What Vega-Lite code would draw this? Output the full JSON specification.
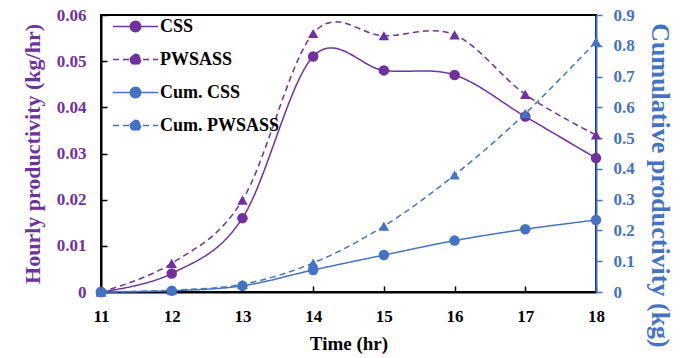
{
  "$schema": "https://vega.github.io/schema/vega-lite/v6.json",
  "width": 495,
  "height": 277,
  "autosize": "none",
  "padding": {"left": 101, "top": 15, "right": 89, "bottom": 66},
  "background": "white",
  "config": {
    "font": "Liberation Serif",
    "view": {"stroke": "black", "strokeWidth": 2},
    "axis": {"grid": false, "labelFont": "Liberation Serif", "titleFont": "Liberation Serif", "labelFontWeight": "bold", "titleFontWeight": "bold", "labelOverlap": false}
  },
  "data": {
    "values": [
      {"t": 11, "s": "CSS", "v": 0, "ax": "L"},
      {"t": 12, "s": "CSS", "v": 0.004, "ax": "L"},
      {"t": 13, "s": "CSS", "v": 0.016, "ax": "L"},
      {"t": 14, "s": "CSS", "v": 0.051, "ax": "L"},
      {"t": 15, "s": "CSS", "v": 0.048, "ax": "L"},
      {"t": 16, "s": "CSS", "v": 0.047, "ax": "L"},
      {"t": 17, "s": "CSS", "v": 0.038, "ax": "L"},
      {"t": 18, "s": "CSS", "v": 0.029, "ax": "L"},
      {"t": 11, "s": "PWSASS", "v": 0, "ax": "L"},
      {"t": 12, "s": "PWSASS", "v": 0.0062, "ax": "L"},
      {"t": 13, "s": "PWSASS", "v": 0.0199, "ax": "L"},
      {"t": 14, "s": "PWSASS", "v": 0.056, "ax": "L"},
      {"t": 15, "s": "PWSASS", "v": 0.0555, "ax": "L"},
      {"t": 16, "s": "PWSASS", "v": 0.0557, "ax": "L"},
      {"t": 17, "s": "PWSASS", "v": 0.0428, "ax": "L"},
      {"t": 18, "s": "PWSASS", "v": 0.034, "ax": "L"},
      {"t": 11, "s": "Cum. CSS", "v": 0, "ax": "R"},
      {"t": 12, "s": "Cum. CSS", "v": 0.004, "ax": "R"},
      {"t": 13, "s": "Cum. CSS", "v": 0.02, "ax": "R"},
      {"t": 14, "s": "Cum. CSS", "v": 0.0715, "ax": "R"},
      {"t": 15, "s": "Cum. CSS", "v": 0.12, "ax": "R"},
      {"t": 16, "s": "Cum. CSS", "v": 0.167, "ax": "R"},
      {"t": 17, "s": "Cum. CSS", "v": 0.204, "ax": "R"},
      {"t": 18, "s": "Cum. CSS", "v": 0.234, "ax": "R"},
      {"t": 11, "s": "Cum. PWSASS", "v": 0, "ax": "R"},
      {"t": 12, "s": "Cum. PWSASS", "v": 0.006, "ax": "R"},
      {"t": 13, "s": "Cum. PWSASS", "v": 0.025, "ax": "R"},
      {"t": 14, "s": "Cum. PWSASS", "v": 0.094, "ax": "R"},
      {"t": 15, "s": "Cum. PWSASS", "v": 0.214, "ax": "R"},
      {"t": 16, "s": "Cum. PWSASS", "v": 0.38, "ax": "R"},
      {"t": 17, "s": "Cum. PWSASS", "v": 0.58, "ax": "R"},
      {"t": 18, "s": "Cum. PWSASS", "v": 0.813, "ax": "R"}
    ]
  },
  "encoding": {
    "x": {"field": "t", "type": "quantitative", "scale": {"domain": [11, 18], "nice": false, "zero": false},
      "axis": {"values": [11, 12, 13, 14, 15, 16, 17, 18], "format": "d", "title": "Time (hr)", "labelFontSize": 17, "labelColor": "black", "titleFontSize": 19, "titleColor": "black", "tickSize": -6, "tickWidth": 1.5, "tickColor": "black", "domainColor": "black", "domainWidth": 2, "labelPadding": 22, "titlePadding": 10, "labelFlush": false}},
    "color": {"field": "s", "type": "nominal", "scale": {"domain": ["CSS", "PWSASS", "Cum. CSS", "Cum. PWSASS"], "range": ["#7030A0", "#7030A0", "#4472C4", "#4472C4"]},
      "legend": {"title": null, "orient": "none", "legendX": 11, "legendY": -12, "padding": 0, "symbolSize": 2025, "symbolStrokeWidth": 1.5, "labelFont": "Liberation Serif", "labelFontSize": 18, "labelFontWeight": "bold", "labelColor": "black", "rowPadding": -9, "labelOffset": 1,
        "encode": {"symbols": {"update": {
          "shape": {"condition": {"test": "indexof(datum.value, 'PWSASS') >= 0", "value": "M-1,0H-0.74M-0.56,0H-0.3M0.3,0H0.56M0.74,0H1M0,-0.33L0.3,0.21L-0.3,0.21Z"}, "value": "M-1,0H1M-0.23,0A0.23,0.23,0,1,0,0.23,0A0.23,0.23,0,1,0,-0.23,0Z"},
          "fill": {"value": {"expr": "scale('color', datum.value)"}},
          "stroke": {"value": {"expr": "scale('color', datum.value)"}},
          "strokeDash": {"value": [1, 0]},
          "strokeJoin": {"value": "miter"},
          "opacity": {"value": 1}
        }}}}},
    "strokeDash": {"field": "s", "type": "nominal", "scale": {"domain": ["CSS", "PWSASS", "Cum. CSS", "Cum. PWSASS"], "range": [[1, 0], [6, 4], [1, 0], [6, 4]]}, "legend": null}
  },
  "layer": [
    {
      "transform": [{"filter": "datum.ax == 'L'"}],
      "encoding": {
        "y": {"field": "v", "type": "quantitative", "scale": {"domain": [0, 0.06], "nice": false},
          "axis": {"orient": "left", "values": [0, 0.01, 0.02, 0.03, 0.04, 0.05, 0.06], "labelExpr": "datum.value == 0 ? '0' : format(datum.value, '.2f')", "title": "Hourly productivity (kg/hr)", "titleColor": "#7030A0", "labelColor": "#7030A0", "labelFontSize": 17, "titleFontSize": 22, "tickSize": -6, "tickWidth": 1.5, "tickColor": "black", "domainColor": "black", "domainWidth": 2, "labelPadding": 21, "titlePadding": 12}}
      },
      "layer": [
        {
          "mark": {"type": "line", "interpolate": "cardinal", "strokeWidth": 1.5}
        },
        {
          "mark": {"type": "point", "filled": true, "size": 110, "opacity": 1, "strokeDash": [1, 0]},
          "encoding": {
            "strokeDash": {"value": [1, 0]},
            "shape": {"field": "s", "type": "nominal", "scale": {"range": ["circle", "circle", "triangle-up", "triangle-up"]}, "legend": null}
          }
        }
      ]
    },
    {
      "transform": [{"filter": "datum.ax == 'R'"}],
      "encoding": {
        "y": {"field": "v", "type": "quantitative", "scale": {"domain": [0, 0.9], "nice": false},
          "axis": {"orient": "right", "values": [0, 0.1, 0.2, 0.3, 0.4, 0.5, 0.6, 0.7, 0.8, 0.9], "labelExpr": "datum.value == 0 ? '0' : format(datum.value, '.1f')", "title": "Cumulative productivity (kg)", "titleColor": "#4472C4", "labelColor": "#4472C4", "labelFontSize": 17, "titleFontSize": 26, "titleY": 170, "tickSize": 6, "tickWidth": 1.5, "tickColor": "#4472C4", "domainColor": "#4472C4", "domainWidth": 2, "labelPadding": 11, "titlePadding": 12}}
      },
      "layer": [
        {
          "mark": {"type": "line", "interpolate": "cardinal", "strokeWidth": 1.5}
        },
        {
          "mark": {"type": "point", "filled": true, "size": 110, "opacity": 1},
          "encoding": {
            "strokeDash": {"value": [1, 0]},
            "shape": {"field": "s", "type": "nominal", "legend": null}
          }
        }
      ]
    }
  ],
  "resolve": {"scale": {"y": "independent"}}
}
